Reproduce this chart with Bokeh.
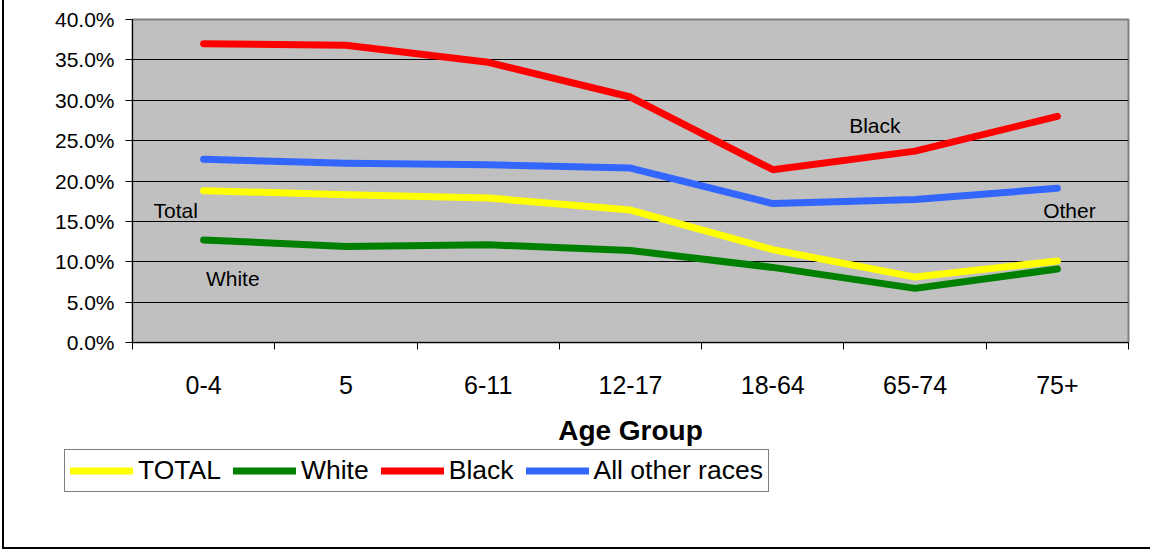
from bokeh.plotting import figure
from bokeh.layouts import column
from bokeh.models import (Range1d, FixedTicker, NumeralTickFormatter, Legend, LegendItem,
                          Label)
from bokeh.embed import file_html
from bokeh.resources import INLINE

categories = ["0-4", "5", "6-11", "12-17", "18-64", "65-74", "75+"]
total = [0.188, 0.183, 0.179, 0.164, 0.115, 0.081, 0.101]
white = [0.127, 0.119, 0.121, 0.114, 0.093, 0.067, 0.091]
black = [0.370, 0.368, 0.347, 0.304, 0.214, 0.237, 0.280]
other = [0.227, 0.222, 0.220, 0.216, 0.172, 0.177, 0.191]
series_names = ["TOTAL", "White", "Black", "All other races"]
y_ticks = [0.0, 0.05, 0.10, 0.15, 0.20, 0.25, 0.30, 0.35, 0.40]

FONT = "Liberation Sans"
xs = [i + 0.5 for i in range(len(categories))]
colors = ["#FFFF00", "#008000", "#FF0000", "#3366FF"]
data = [total, white, black, other]

p = figure(width=1146, height=448, output_backend="svg", toolbar_location=None,
           x_range=Range1d(0, len(categories)), y_range=Range1d(0, 0.40),
           min_border_left=128, min_border_right=22, min_border_top=19,
           min_border_bottom=105)
p.frame_align = False

p.background_fill_color = "#C0C0C0"
p.border_fill_color = "white"
p.outline_line_color = "#808080"
p.outline_line_width = 2

# axes
p.xaxis.ticker = FixedTicker(ticks=xs, minor_ticks=list(range(len(categories) + 1)))
p.xaxis.major_label_overrides = {x: c for x, c in zip(xs, categories)}
p.xaxis.major_tick_out = 0
p.xaxis.major_tick_in = 0
p.xaxis.minor_tick_out = 7
p.xaxis.minor_tick_in = 0
p.xaxis.minor_tick_line_color = "black"
p.xaxis.axis_line_color = "black"
p.xaxis.major_label_text_font = FONT
p.xaxis.major_label_text_font_size = "25px"
p.xaxis.major_label_text_color = "black"
p.xaxis.major_label_standoff = 26
p.xaxis.axis_label = "Age Group"
p.xaxis.axis_label_text_font = FONT
p.xaxis.axis_label_text_font_size = "28px"
p.xaxis.axis_label_text_font_style = "bold"
p.xaxis.axis_label_text_color = "black"
p.xaxis.axis_label_standoff = 18

p.yaxis.ticker = FixedTicker(ticks=y_ticks)
p.yaxis.formatter = NumeralTickFormatter(format="0.0%")
p.yaxis.major_tick_out = 7
p.yaxis.major_tick_in = 0
p.yaxis.minor_tick_line_color = None
p.yaxis.axis_line_color = "black"
p.yaxis.major_tick_line_color = "black"
p.yaxis.major_label_text_font = FONT
p.yaxis.major_label_text_font_size = "21px"
p.yaxis.major_label_text_color = "black"
p.yaxis.major_label_standoff = 11

p.xgrid.grid_line_color = None
p.ygrid.ticker = FixedTicker(ticks=y_ticks)
p.ygrid.grid_line_color = "black"
p.ygrid.grid_line_width = 1

for vals, col in zip(data, colors):
    p.line(xs, vals, line_color=col, line_width=7, line_cap="round", line_join="round")

annotations = [("Total", 0.148, 0.163), ("White", 0.516, 0.0791),
               ("Black", 5.037, 0.2692), ("Other", 6.40, 0.163)]
for t, x, y in annotations:
    p.add_layout(Label(x=x, y=y, text=t, text_font=FONT, text_font_size="21px",
                       text_color="black", text_baseline="alphabetic", text_align="left"))

# legend strip (separate figure below the chart)
p2 = figure(width=1146, height=99, output_backend="svg", toolbar_location=None,
            x_range=Range1d(-20, -19), y_range=Range1d(0, 1),
            x_axis_type=None, y_axis_type=None,
            min_border_left=0, min_border_right=0, min_border_top=0, min_border_bottom=0)
p2.frame_align = False
p2.outline_line_color = None
p2.xgrid.visible = False
p2.ygrid.visible = False
renderers = []
for vals, col in zip(data, colors):
    r = p2.line(xs, vals, line_color=col, line_width=7, line_cap="round", line_join="round")
    renderers.append(r)
items = [LegendItem(label=n, renderers=[r]) for n, r in zip(series_names, renderers)]
legend = Legend(items=items, orientation="horizontal", location=(60, 55),
                label_text_font=FONT, label_text_font_size="26.5px",
                label_text_color="black", glyph_width=63, glyph_height=27,
                label_height=27, label_standoff=5, spacing=12, padding=5, margin=0,
                border_line_color="black", border_line_width=1,
                background_fill_color="white", background_fill_alpha=1)
p2.add_layout(legend, "center")

layout = column(p, p2, spacing=0)
layout.styles = {"border-left": "2px solid #000", "border-bottom": "2px solid #000",
                 "margin-left": "2px"}

open("out.html", "w").write(file_html(layout, INLINE))
